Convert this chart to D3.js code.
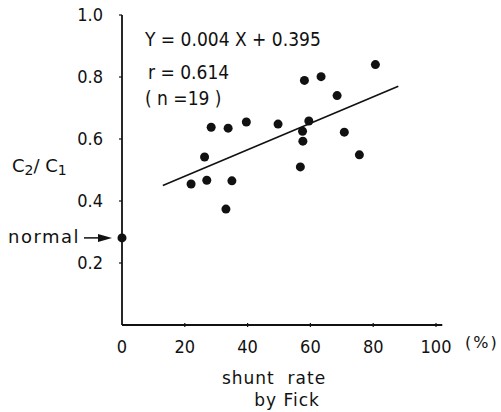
<!DOCTYPE html>
<html>
<head>
<meta charset="utf-8">
<script src="https://cdn.jsdelivr.net/npm/d3@7"></script>
<style>
  body { margin: 0; background: #fff; }
  svg text { font-family: "DejaVu Sans", sans-serif; fill: #111; white-space: pre; }
  svg text.cond { font-family: "DejaVu Sans Condensed", "DejaVu Sans", sans-serif; font-stretch: condensed; }
</style>
</head>
<body>
<div id="chart"></div>
<script>
// data
const shunt = [22.0, 27.0, 26.3, 28.4, 33.8, 35.0, 33.1, 39.6, 49.7, 56.8, 57.6, 57.5, 59.5, 58.1, 63.4, 68.5, 70.8, 75.6, 80.7];
const ratio = [0.455, 0.467, 0.542, 0.638, 0.635, 0.465, 0.374, 0.655, 0.648, 0.510, 0.593, 0.625, 0.658, 0.789, 0.801, 0.740, 0.622, 0.549, 0.840];
const normalX = [0];
const normalY = [0.281];
const fitX = [13, 88];
const fitY = [0.45, 0.77];
const xTicks = [0, 20, 40, 60, 80, 100];
const yTicks = [0.2, 0.4, 0.6, 0.8, 1.0];

const W = 501, H = 412;
const svg = d3.select("#chart").append("svg")
  .attr("width", W).attr("height", H);

const x = d3.scaleLinear().domain([0, 100]).range([122, 436]);
const y = d3.scaleLinear().domain([0, 1]).range([325, 15]);

// axes
svg.append("line")
  .attr("x1", x(0)).attr("x2", x(0))
  .attr("y1", y(1)).attr("y2", y(0))
  .attr("stroke", "#111").attr("stroke-width", 1.8);
svg.append("line")
  .attr("x1", x(0)).attr("x2", x(102))
  .attr("y1", y(0)).attr("y2", y(0))
  .attr("stroke", "#111").attr("stroke-width", 1.8);

// y ticks
svg.selectAll(".ytick").data(yTicks).join("line")
  .attr("x1", x(0) - 3).attr("x2", x(0))
  .attr("y1", d => y(d)).attr("y2", d => y(d))
  .attr("stroke", "#111").attr("stroke-width", 1.2);
svg.selectAll(".ylab").data(yTicks).join("text")
  .attr("x", 103).attr("y", d => y(d) + 1)
  .attr("text-anchor", "end").attr("dominant-baseline", "middle")
  .style("font-size", "18px")
  .attr("class", "cond")
  .text(d => d.toFixed(1));

// x ticks
svg.selectAll(".xtick").data(xTicks.slice(1)).join("line")
  .attr("x1", d => x(d)).attr("x2", d => x(d))
  .attr("y1", y(0) - 2).attr("y2", y(0) + 2)
  .attr("stroke", "#111").attr("stroke-width", 1.2);
svg.selectAll(".xlab").data(xTicks).join("text")
  .attr("x", d => x(d)).attr("y", 348)
  .attr("text-anchor", "middle").attr("dominant-baseline", "middle")
  .style("font-size", "18px")
  .attr("class", "cond")
  .text(d => d);
svg.append("text")
  .attr("x", 465).attr("y", 343)
  .attr("dominant-baseline", "middle")
  .style("font-size", "16px").style("letter-spacing", "2px")
  .text("(%)");

// axis titles
svg.append("text")
  .attr("x", 274).attr("y", 379)
  .attr("text-anchor", "middle").attr("dominant-baseline", "middle")
  .style("font-size", "17px").style("letter-spacing", "1px")
  .text("shunt  rate");
svg.append("text")
  .attr("x", 287).attr("y", 401)
  .attr("text-anchor", "middle").attr("dominant-baseline", "middle")
  .style("font-size", "17px").style("letter-spacing", "1px")
  .text("by Fick");

const yt = svg.append("text")
  .attr("x", 12).attr("y", 167)
  .attr("dominant-baseline", "middle")
  .style("font-size", "18px");
yt.append("tspan").text("C");
yt.append("tspan").attr("dy", 4).style("font-size", "14px").text("2");
yt.append("tspan").attr("dy", -4).text("/ C");
yt.append("tspan").attr("dy", 4).style("font-size", "14px").text("1");

// annotation
svg.append("text")
  .attr("x", 145).attr("y", 40)
  .attr("dominant-baseline", "middle")
  .attr("class", "cond")
  .style("font-size", "19px")
  .text("Y = 0.004 X + 0.395");
svg.append("text")
  .attr("x", 148).attr("y", 73)
  .attr("dominant-baseline", "middle")
  .attr("class", "cond")
  .style("font-size", "19px")
  .text("r = 0.614");
svg.append("text")
  .attr("x", 145).attr("y", 99)
  .attr("dominant-baseline", "middle")
  .attr("class", "cond")
  .style("font-size", "19px")
  .text("( n =19 )");

// regression line
svg.append("line")
  .attr("x1", x(fitX[0])).attr("y1", y(fitY[0]))
  .attr("x2", x(fitX[1])).attr("y2", y(fitY[1]))
  .attr("stroke", "#111").attr("stroke-width", 1.6);

// points
svg.append("g").selectAll("circle")
  .data(shunt.map((s, i) => [s, ratio[i]]))
  .join("circle")
  .attr("cx", d => x(d[0])).attr("cy", d => y(d[1]))
  .attr("r", 4.5).attr("fill", "#111");

svg.append("circle")
  .attr("cx", x(normalX[0])).attr("cy", y(normalY[0]))
  .attr("r", 4.5).attr("fill", "#111");

// normal label + arrow
svg.append("text")
  .attr("x", 8).attr("y", y(normalY[0]))
  .attr("dominant-baseline", "middle")
  .style("font-size", "18px").style("letter-spacing", "1.5px")
  .text("normal");
svg.append("line")
  .attr("x1", 84).attr("x2", 100)
  .attr("y1", y(normalY[0])).attr("y2", y(normalY[0]))
  .attr("stroke", "#111").attr("stroke-width", 1.5);
svg.append("path")
  .attr("d", `M${98},${y(normalY[0]) - 4} L${112},${y(normalY[0])} L${98},${y(normalY[0]) + 4} Z`)
  .attr("fill", "#111");
</script>
</body>
</html>
